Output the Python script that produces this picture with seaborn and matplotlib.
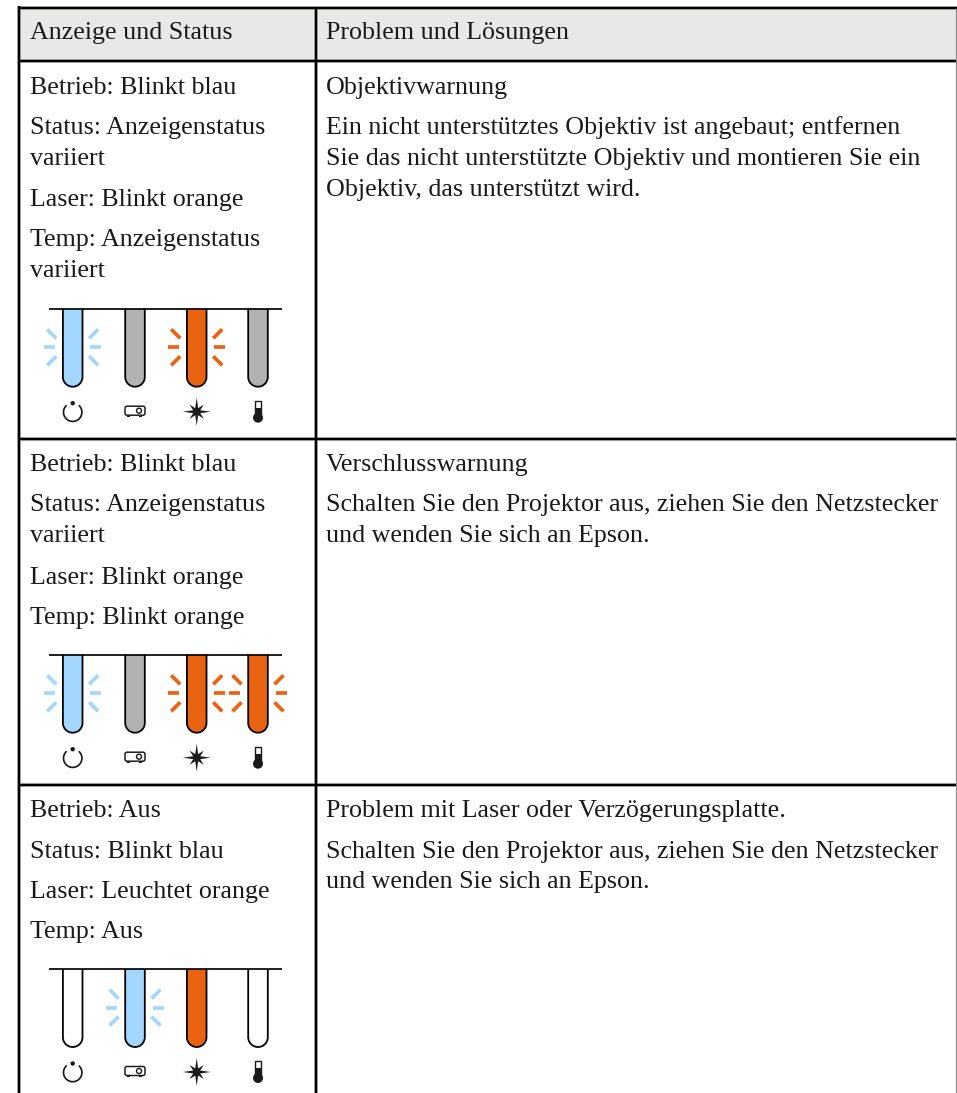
import matplotlib

matplotlib.use("Agg")
import matplotlib.pyplot as plt
import numpy as np
import seaborn as sns
from matplotlib.patches import Circle, Polygon, Rectangle, FancyBboxPatch

sns.set_theme(style="white")
plt.rcParams["font.family"] = ["Liberation Serif", "DejaVu Serif"]

W, H = 957, 1093
PX = 72 / 100  # one pixel in points at dpi 100

headers = ["Anzeige und Status", "Problem und Lösungen"]

status_row1 = ["Betrieb: Blinkt blau", "Status: Anzeigenstatus", "variiert", "Laser: Blinkt orange",
               "Temp: Anzeigenstatus", "variiert"]
status_row2 = ["Betrieb: Blinkt blau", "Status: Anzeigenstatus", "variiert", "Laser: Blinkt orange",
               "Temp: Blinkt orange"]
status_row3 = ["Betrieb: Aus", "Status: Blinkt blau", "Laser: Leuchtet orange", "Temp: Aus"]

problem_row1 = ["Objektivwarnung", "Ein nicht unterstütztes Objektiv ist angebaut; entfernen",
                "Sie das nicht unterstützte Objektiv und montieren Sie ein", "Objektiv, das unterstützt wird."]
problem_row2 = ["Verschlusswarnung", "Schalten Sie den Projektor aus, ziehen Sie den Netzstecker",
                "und wenden Sie sich an Epson."]
problem_row3 = ["Problem mit Laser oder Verzögerungsplatte.",
                "Schalten Sie den Projektor aus, ziehen Sie den Netzstecker", "und wenden Sie sich an Epson."]

# led state per row: colour name, then blinking or not
led_colors_row1 = ["blue", "gray", "orange", "gray"]
led_colors_row2 = ["blue", "gray", "orange", "orange"]
led_colors_row3 = ["off", "blue", "orange", "off"]
led_blink_row1 = [True, False, True, False]
led_blink_row2 = [True, False, True, True]
led_blink_row3 = [False, True, False, False]

FILLS = {"blue": "#A3D7FF", "gray": "#B2B2B2", "orange": "#EA6311", "off": "white"}
INK = "#1a1a1a"

# layout
LEFT, DIVIDER = 19, 315.5
TOP, HEAD_BOTTOM = 7.5, 61.3
ROW_LINES = [438.6, 785.3]
LED_X = [72.7, 135, 196.7, 258]
FONT = 26 * PX


def rule(ax, xs, ys, color="black", width=2.4, halo=True):
    if halo:
        sns.lineplot(x=xs, y=ys, color="#B4B4B4", lw=(width + 1.2) * PX, estimator=None, sort=False, ax=ax,
                     solid_capstyle="butt", zorder=3)
    sns.lineplot(x=xs, y=ys, color=color, lw=width * PX, estimator=None, sort=False, ax=ax,
                 solid_capstyle="butt", zorder=4)


def write_lines(ax, x, lines, baselines):
    for line, y in zip(lines, baselines):
        ax.text(x, y, line, fontsize=FONT, color=INK, va="baseline", ha="left")


def draw_tube(ax, x, top, fill):
    r, bottom = 9.8, top + 78
    theta = np.linspace(np.pi, 0, 40)
    arc = np.column_stack([x + r * np.cos(theta), bottom - r + r * np.sin(theta)])
    pts = np.vstack([[x - r, top], arc, [x + r, top]])
    ax.add_patch(Polygon(pts, closed=False, facecolor=FILLS[fill], edgecolor="black", lw=1.8 * PX, zorder=2))


def draw_rays(ax, x, y, color):
    for sx in (-1, 1):
        ax.plot([x + sx * 17.7, x + sx * 28.7], [y, y], color=color, lw=3.7 * PX, solid_capstyle="butt", zorder=2)
        for sy in (-1, 1):
            ax.plot([x + sx * 16.5, x + sx * 25.5], [y + sy * 9, y + sy * 18], color=color, lw=3.7 * PX,
                    solid_capstyle="butt", zorder=2)


def power_icon(ax, x, y):
    theta = np.deg2rad(np.linspace(-45, 225, 60))
    ax.plot(x + 9.2 * np.cos(theta), y + 0.5 + 9.2 * np.sin(theta), color=INK, lw=1.7 * PX)
    ax.add_patch(Circle((x, y - 8.5), 2.2, color=INK, lw=0))


def projector_icon(ax, x, y):
    ax.add_patch(FancyBboxPatch((x - 10, y - 4.5), 20, 9, boxstyle="round,pad=0,rounding_size=2", facecolor="white",
                                edgecolor=INK, lw=1.5 * PX))
    ax.add_patch(Circle((x + 4, y), 2.5, facecolor="white", edgecolor=INK, lw=1.4 * PX))
    for fx in (-7.7, 4.3):
        ax.add_patch(Rectangle((x + fx, y + 5), 2.7, 1.4, color=INK, lw=0))


def star_icon(ax, x, y):
    angles = np.deg2rad(np.arange(0, 360, 22.5))
    radii = np.where(np.arange(16) % 4 == 0, 14, np.where(np.arange(16) % 2 == 0, 10, 3.8))
    ax.add_patch(Polygon(np.column_stack([x + radii * np.cos(angles), y + radii * np.sin(angles)]), color=INK, lw=0))


def thermo_icon(ax, x, y):
    ax.add_patch(Rectangle((x - 3, y - 11), 6, 14, facecolor="white", edgecolor=INK, lw=1.4 * PX))
    ax.add_patch(Rectangle((x - 3, y - 4), 6, 8, color=INK, lw=0))
    ax.add_patch(Circle((x, y + 6), 5, color=INK, lw=0))


def draw_panel(ax, rule_y, colors, blinks):
    rule(ax, [49, 281.5], [rule_y, rule_y], width=1.7, halo=False)
    icon_y = rule_y + 103
    for x, color, blink in zip(LED_X, colors, blinks):
        draw_tube(ax, x, rule_y, color)
        if blink:
            draw_rays(ax, x, rule_y + 38.6, FILLS[color])
    power_icon(ax, LED_X[0], icon_y)
    projector_icon(ax, LED_X[1], icon_y - 1)
    star_icon(ax, LED_X[2], icon_y)
    thermo_icon(ax, LED_X[3], icon_y)


fig = plt.figure(figsize=(W / 100, H / 100), dpi=100)
ax = fig.add_axes([0, 0, 1, 1])
ax.set_xlim(0, W)
ax.set_ylim(H, 0)
ax.axis("off")

ax.add_patch(Rectangle((LEFT, TOP), W - LEFT, HEAD_BOTTOM - TOP, facecolor="#E8E8E6", edgecolor="none", zorder=0))
rule(ax, [LEFT, W], [TOP, TOP])
rule(ax, [LEFT, W], [HEAD_BOTTOM, HEAD_BOTTOM])
for y in ROW_LINES:
    rule(ax, [LEFT, W], [y, y])
rule(ax, [LEFT, LEFT], [TOP - 1.2, H])
rule(ax, [DIVIDER, DIVIDER], [TOP, H])
rule(ax, [956.4, 956.4], [TOP, H], color="#8A8A8A", width=1.2, halo=False)

write_lines(ax, 30, headers[:1], [39])
write_lines(ax, 326, headers[1:], [39])
write_lines(ax, 30, status_row1, [94, 134, 165, 206, 246, 277])
write_lines(ax, 30, status_row2, [471, 511, 542, 584, 624])
write_lines(ax, 30, status_row3, [817, 858, 898, 938])
write_lines(ax, 326, problem_row1, [94, 134, 165, 196])
write_lines(ax, 326, problem_row2, [471, 511, 542])
write_lines(ax, 326, problem_row3, [817, 858, 888])

draw_panel(ax, 308.7, led_colors_row1, led_blink_row1)
draw_panel(ax, 654.7, led_colors_row2, led_blink_row2)
draw_panel(ax, 969, led_colors_row3, led_blink_row3)

fig.savefig("out.png", dpi=100)
